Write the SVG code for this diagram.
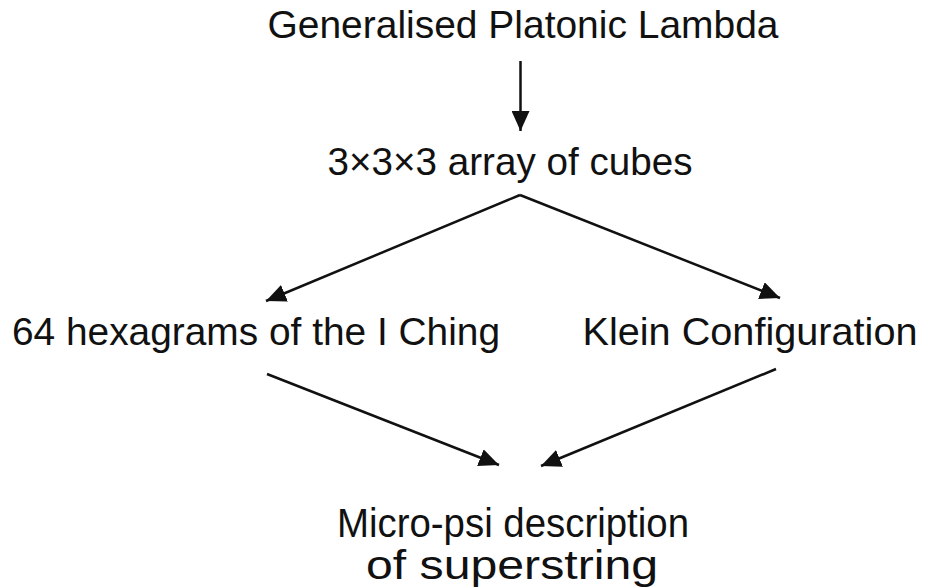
<svg xmlns="http://www.w3.org/2000/svg" width="926" height="588" viewBox="0 0 926 588">
<style>
text{font-family:"Liberation Sans",Arial,sans-serif;font-size:39px;fill:#111;text-anchor:middle}
.big{font-size:41px}
.c{stroke:#111;stroke-width:2.5;fill:none;marker-end:url(#ah)}
</style>
<defs>
<marker id="ah" markerUnits="userSpaceOnUse" markerWidth="20" markerHeight="18" refX="20" refY="9" orient="auto" viewBox="0 0 20 18">
<path d="M0,0 L20,9 L0,18 z" fill="#111"/>
</marker>
</defs>
<rect width="926" height="588" fill="#fff"/>
<g id="n1"><text x="523" y="38" textLength="511" lengthAdjust="spacingAndGlyphs">Generalised Platonic Lambda</text></g>
<g id="n2"><text x="510" y="175" textLength="365" lengthAdjust="spacingAndGlyphs">3×3×3 array of cubes</text></g>
<g id="n3"><text x="256" y="345" textLength="488" lengthAdjust="spacingAndGlyphs">64 hexagrams of the I Ching</text></g>
<g id="n4"><text x="750" y="345" textLength="335" lengthAdjust="spacingAndGlyphs">Klein Configuration</text></g>
<g id="n5"><text class="big" x="513" y="537" textLength="352" lengthAdjust="spacingAndGlyphs">Micro-psi description</text><text class="big" x="512" y="579" textLength="292" lengthAdjust="spacingAndGlyphs">of superstring</text></g>
<g id="connectors">
<line class="c" x1="520.5" y1="61" x2="520.5" y2="131"/>
<line class="c" x1="520" y1="195" x2="266" y2="301"/>
<line class="c" x1="520" y1="195" x2="780" y2="298"/>
<line class="c" x1="267" y1="374" x2="499" y2="465"/>
<line class="c" x1="776" y1="369" x2="541" y2="466"/>
</g>
</svg>
